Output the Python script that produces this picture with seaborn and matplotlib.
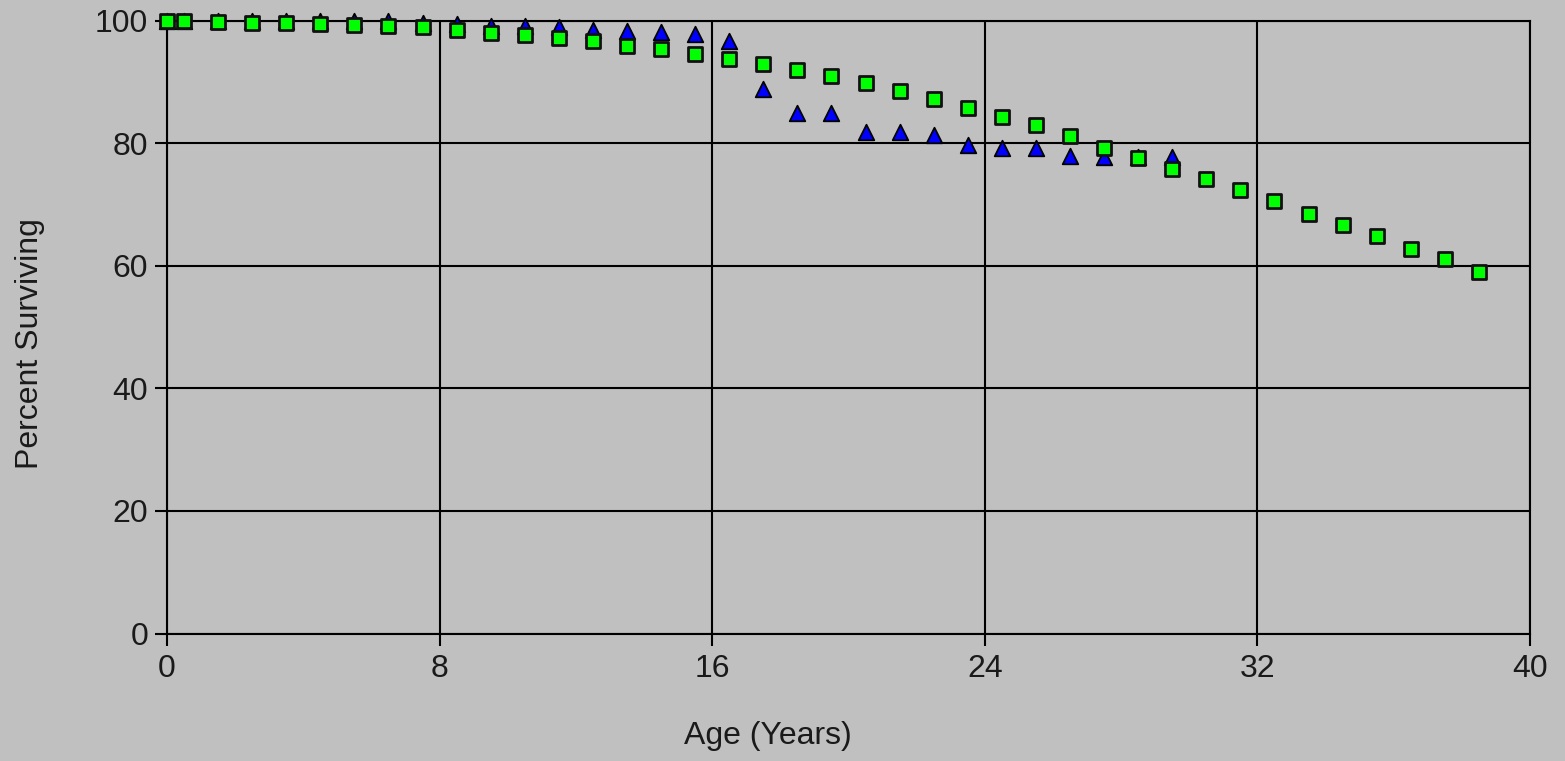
import matplotlib
matplotlib.use("Agg")
import matplotlib.pyplot as plt
import seaborn as sns
import pandas as pd

# ---- data ----
ages_green = [0, 0.5, 1.5, 2.5, 3.5, 4.5, 5.5, 6.5, 7.5, 8.5, 9.5, 10.5, 11.5, 12.5,
              13.5, 14.5, 15.5, 16.5, 17.5, 18.5, 19.5, 20.5, 21.5, 22.5, 23.5, 24.5,
              25.5, 26.5, 27.5, 28.5, 29.5, 30.5, 31.5, 32.5, 33.5, 34.5, 35.5, 36.5,
              37.5, 38.5]
pct_green = [100, 100, 99.8, 99.7, 99.6, 99.5, 99.3, 99.1, 98.9, 98.5, 98.0, 97.6, 97.1,
             96.7, 95.9, 95.4, 94.6, 93.7, 92.9, 92.0, 90.9, 89.8, 88.5, 87.2, 85.8,
             84.3, 82.9, 81.2, 79.3, 77.6, 75.8, 74.1, 72.4, 70.6, 68.5, 66.7, 64.9,
             62.8, 61.1, 59.0]

ages_blue = [0, 0.5, 1.5, 2.5, 3.5, 4.5, 5.5, 6.5, 7.5, 8.5, 9.5, 10.5, 11.5, 12.5,
             13.5, 14.5, 15.5, 16.5, 17.5, 18.5, 19.5, 20.5, 21.5, 22.5, 23.5, 24.5,
             25.5, 26.5, 27.5, 28.5, 29.5]
pct_blue = [100, 100, 100, 100, 100, 100, 100, 99.9, 99.7, 99.5, 99.2, 99.1, 99.0,
            98.5, 98.3, 98.1, 97.9, 96.7, 88.8, 85.0, 84.9, 81.9, 81.9, 81.3, 79.7,
            79.2, 79.2, 77.9, 77.7, 77.8, 77.8]

x_ticks = [0, 8, 16, 24, 32, 40]
y_ticks = [0, 20, 40, 60, 80, 100]

df_blue = pd.DataFrame({"age": ages_blue, "pct": pct_blue})
df_green = pd.DataFrame({"age": ages_green, "pct": pct_green})

BG = "#c0c0c0"
sns.set_style("whitegrid", rc={"axes.facecolor": BG, "figure.facecolor": BG,
                               "grid.color": "black", "axes.edgecolor": "black"})
plt.rcParams["font.family"] = ["Liberation Sans", "DejaVu Sans"]

fig = plt.figure(figsize=(15.65, 7.61), dpi=100, facecolor=BG)
ax = fig.add_axes([0.10671, 0.16754, 0.87093, 0.80526])
ax.set_facecolor(BG)

sns.scatterplot(data=df_blue, x="age", y="pct", marker="^", color="#0000ff",
                edgecolor="black", linewidth=1.3, s=125, ax=ax, clip_on=False,
                zorder=3, legend=False)
sns.scatterplot(data=df_green, x="age", y="pct", marker="s", color="#00ff00",
                edgecolor="#111111", linewidth=2.0, s=100, ax=ax, clip_on=False,
                zorder=4, legend=False)

ax.set_xlim(0, 40)
ax.set_ylim(0, 100)
ax.set_xticks(x_ticks)
ax.set_yticks(y_ticks)
ax.grid(True, color="black", linewidth=1.5)
ax.set_axisbelow(True)
for sp in ax.spines.values():
    sp.set_color("black")
    sp.set_linewidth(1.5)

ax.tick_params(axis="both", direction="out", length=8.5, width=1.5, color="black",
               labelsize=23, labelcolor="#1a1a1a")
ax.tick_params(axis="y", pad=5)
ax.tick_params(axis="x", pad=6)
ax.tick_params(left=True, bottom=True)

ax.set_xlabel("Age (Years)", fontsize=23, color="#1a1a1a")
ax.set_ylabel("Percent Surviving", fontsize=23, color="#1a1a1a")
ax.xaxis.set_label_coords(0.4406, -0.142)
ax.yaxis.set_label_coords(-0.0895, 0.4724)

fig.savefig("out.png", dpi=100, facecolor=BG)
